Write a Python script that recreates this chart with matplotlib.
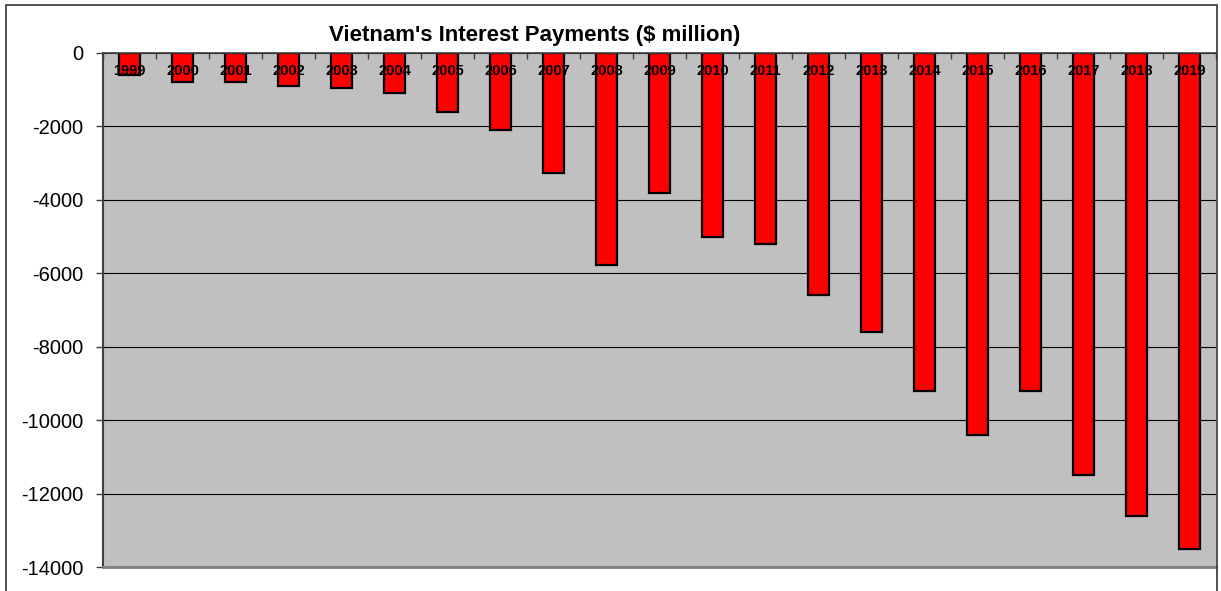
import matplotlib
matplotlib.use("Agg")
import matplotlib.pyplot as plt
from matplotlib.patches import Rectangle
import numpy as np

plt.rcParams['font.family'] = ['Liberation Sans', 'DejaVu Sans']

years = [str(y) for y in range(1999, 2020)]
interest_payments = [-600, -780, -800, -900, -950, -1100, -1600, -2100, -3270,
                     -5770, -3800, -5000, -5200, -6600, -7600, -9200, -10400,
                     -9200, -11500, -12600, -13500]
y_ticks = [0, -2000, -4000, -6000, -8000, -10000, -12000, -14000]
title = "Vietnam's Interest Payments ($ million)"

W, H = 1221, 591
fig = plt.figure(figsize=(W / 100, H / 100), dpi=100)
ax = fig.add_axes([103 / W, 1 - 567 / H, 1113 / W, 514 / H])
ax.set_facecolor('#c0c0c0')

x = np.arange(len(years))
ax.bar(x, interest_payments, width=0.4, color='#ff0000', edgecolor='black',
       linewidth=1.6, zorder=3)

ax.set_xlim(-0.5, len(years) - 0.5)
ax.set_ylim(-14000, 0)
ax.set_yticks(y_ticks)
ax.set_yticklabels([str(v) for v in y_ticks], fontsize=14.5)
ax.yaxis.grid(True, color='black', linewidth=0.8, zorder=1)
ax.set_axisbelow(True)
ax.tick_params(axis='y', direction='out', length=5, width=1, pad=9,
               color='#404040')

# category boundary ticks along the zero line at the top
ax.xaxis.tick_top()
ax.set_xticks(np.arange(-0.5, len(years), 1.0))
ax.set_xticklabels([])
ax.tick_params(axis='x', direction='in', length=4, width=1, color='#404040')

for xi, label in zip(x, years):
    ax.annotate(label, xy=(xi, 0), xytext=(0, -13), textcoords='offset points',
                ha='center', va='center', fontsize=10.5, fontweight='bold',
                zorder=4)

ax.spines['top'].set_color('#404040')
ax.spines['top'].set_linewidth(1.2)
ax.spines['top'].set_zorder(5)
ax.spines['left'].set_color('#404040')
ax.spines['left'].set_linewidth(1.5)
ax.spines['bottom'].set_color('#808080')
ax.spines['bottom'].set_linewidth(2)
ax.spines['right'].set_visible(False)

fig.text(535 / W, 1 - 35 / H, title, ha='center', va='center',
         fontsize=16, fontweight='bold')

# chart frame
fig.patches.append(Rectangle((5.5 / W, -0.05), (1217 - 5.5) / W, 1.05 - 5.5 / H,
                             transform=fig.transFigure, fill=False,
                             edgecolor='#333333', linewidth=1.2))

fig.savefig('out.png', dpi=100)
